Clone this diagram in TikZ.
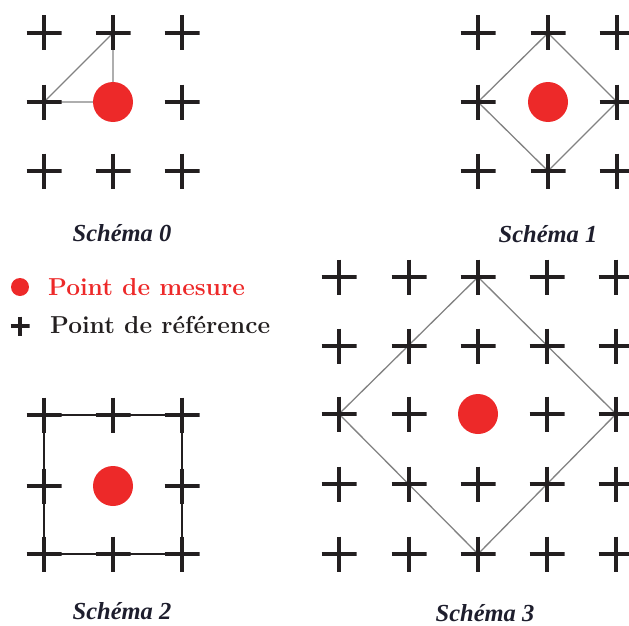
\documentclass[tikz,border=0pt]{standalone}
\usepackage{fontspec}
\usepackage{tikz}
\usetikzlibrary{positioning,backgrounds}
\newfontfamily\capfont{Liberation Serif}
\definecolor{mesure}{RGB}{237,41,41}
\definecolor{refdark}{RGB}{35,31,32}
\definecolor{linkgray}{RGB}{130,130,130}
\definecolor{captxt}{RGB}{30,30,45}

\begin{document}
\begin{tikzpicture}[x=1pt, y=-1pt,
  cross/.style={minimum size=35pt, inner sep=0pt, path picture={
    \draw[refdark, line width=4pt]
      (path picture bounding box.north) -- (path picture bounding box.south)
      (path picture bounding box.west) -- (path picture bounding box.east);}},
  smallcross/.style={cross, minimum size=19pt},
  dot/.style={circle, fill=mesure, minimum size=40pt, inner sep=0pt},
  smalldot/.style={dot, minimum size=18pt},
  link/.style={draw=linkgray, line width=1.3pt},
  caption/.style={font=\capfont\fontsize{24.5}{28}\selectfont\bfseries\itshape, text=captxt,
    anchor=base, inner sep=0pt},
  legend/.style={font=\fontsize{24.5}{28}\selectfont\bfseries, anchor=base west, inner sep=0pt},
]
\useasboundingbox (0,0) rectangle (629,626);

% Schema 0
\foreach \i/\x in {0/44,1/113,2/182}
  \foreach \j/\y in {0/33,1/102,2/171}
    {\ifnum\i\j=11 \else \node[cross] (a\i\j) at (\x,\y) {}; \fi}
\node[dot] (dotA) at (113,102) {};
\begin{scope}[on background layer]
  \draw[link] (a10.center) -- (a01.center) -- (dotA.center) -- (a10.center);
\end{scope}
\node[caption] (capA) at (122,241) {Schéma 0};

% Schema 1
\foreach \i/\x in {0/478,1/548,2/617}
  \foreach \j/\y in {0/33,1/102,2/171}
    {\ifnum\i\j=11 \else \node[cross] (b\i\j) at (\x,\y) {}; \fi}
\node[dot] (dotB) at (548,102) {};
\begin{scope}[on background layer]
  \draw[link] (b10.center) -- (b21.center) -- (b12.center) -- (b01.center) -- cycle;
\end{scope}
\node[caption] (capB) at (548,242) {Schéma 1};

% Legend
\node[smalldot] (legdot) at (20,287) {};
\node[legend, text=mesure] (legmes) at (48,295) {Point de mesure};
\node[smallcross] (legcross) at (20,326) {};
\node[legend, text=refdark] (legref) at (50,333) {Point de référence};

% Schema 2
\foreach \i/\x in {0/44,1/113,2/182}
  \foreach \j/\y in {0/415,1/486,2/554}
    {\ifnum\i\j=11 \else \node[cross] (c\i\j) at (\x,\y) {}; \fi}
\node[dot] (dotC) at (113,486) {};
\begin{scope}[on background layer]
  \draw[draw=refdark, line width=1.3pt] (c00.center) -- (c20.center) -- (c22.center) -- (c02.center) -- cycle;
\end{scope}
\node[caption] (capC) at (122,619) {Schéma 2};

% Schema 3
\foreach \i/\x in {0/339,1/409,2/478,3/547,4/616}
  \foreach \j/\y in {0/277,1/346,2/414,3/484,4/554}
    {\ifnum\i\j=22 \else \node[cross] (d\i\j) at (\x,\y) {}; \fi}
\node[dot] (dotD) at (478,414) {};
\begin{scope}[on background layer]
  \draw[link] (d20.center) -- (d42.center) -- (d24.center) -- (d02.center) -- cycle;
\end{scope}
\node[caption] (capD) at (485,621) {Schéma 3};
\end{tikzpicture}
\end{document}
